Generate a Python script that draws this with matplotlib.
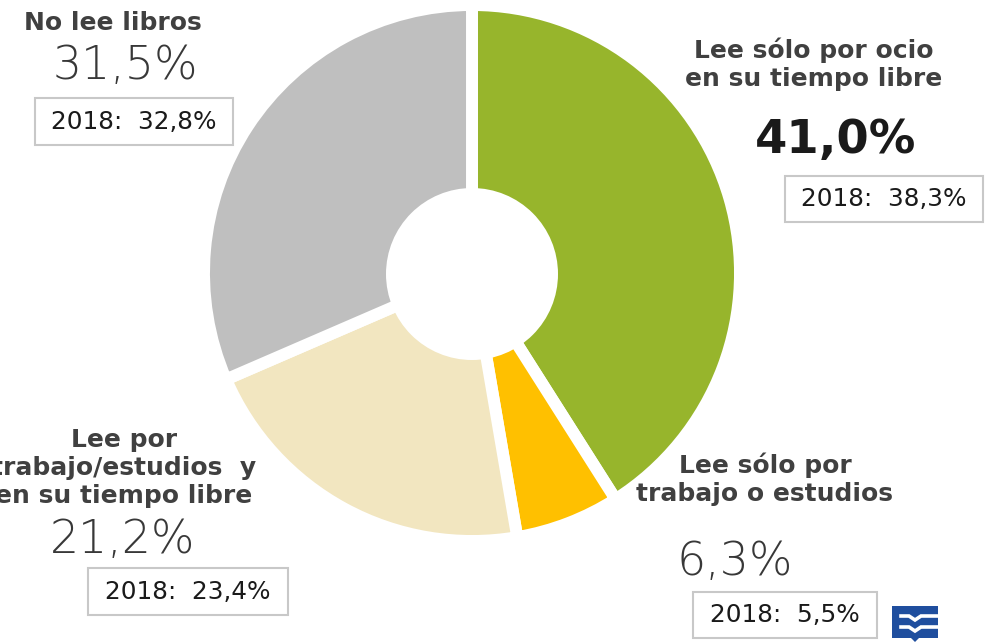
import matplotlib.pyplot as plt
from matplotlib.patches import Circle, Rectangle, Polygon

# data
categories = ['Lee sólo por ocio\nen su tiempo libre',
              'Lee sólo por\ntrabajo o estudios',
              'Lee por\ntrabajo/estudios  y\nen su tiempo libre',
              'No lee libros']
values = [41.0, 6.3, 21.2, 31.5]
prev_2018 = [38.3, 5.5, 23.4, 32.8]
colors = ['#97B52C', '#FFC000', '#F2E6C0', '#BFBFBF']

W, H = 989, 644


def Y(y):
    # image pixel row -> data y
    return H - y


def pct(v):
    return f'{v:.1f}%'.replace('.', ',')


fig = plt.figure(figsize=(W / 100, H / 100), dpi=100)
ax = fig.add_axes([0, 0, 1, 1])

ax.pie(values, colors=colors, startangle=90, counterclock=False,
       center=(472, Y(273)), radius=268,
       wedgeprops=dict(edgecolor='white', linewidth=8.6))
ax.add_patch(Circle((472, Y(274)), 86, facecolor='white', edgecolor='none', zorder=5))

ax.set_xlim(0, W)
ax.set_ylim(0, H)
ax.set_aspect('equal')
ax.axis('off')

label_kw = dict(fontsize=18, fontweight='bold', color='#404040',
                family='DejaVu Sans', ha='center', va='center', linespacing=1.22)
big_kw = dict(fontsize=33, color='#383838', family='DejaVu Sans',
              fontweight='light', ha='center', va='center')
box_kw = dict(fontsize=17.8, color='#1a1a1a', family='DejaVu Sans',
              ha='center', va='center')

# (label xy, value xy, box (x0, y0, x1, y1)) in image pixels
layout = [
    ((814, 64), (836, 140), (785, 176, 983, 222)),
    ((765, 479), (735, 562), (693, 592, 877, 638)),
    ((124, 468), (123, 540), (88, 568, 288, 615)),
    ((113, 23), (125, 66), (35, 98, 233, 145)),
]

for i, (lab, val, box) in enumerate(layout):
    ax.text(lab[0], Y(lab[1]), categories[i], **label_kw)
    if i == 0:
        ax.text(val[0], Y(val[1]), pct(values[i]), fontsize=33.5, fontweight='bold',
                color='#1a1a1a', family='DejaVu Sans', ha='center', va='center')
    else:
        ax.text(val[0], Y(val[1]), pct(values[i]), **big_kw)
    x0, y0, x1, y1 = box
    ax.add_patch(Rectangle((x0, Y(y1)), x1 - x0, y1 - y0, facecolor='white',
                           edgecolor='#C8C8C8', linewidth=1.5))
    ax.text((x0 + x1) / 2, Y((y0 + y1) / 2), f'2018:  {pct(prev_2018[i])}', **box_kw)

# logo
blue = '#1F4E9E'
ax.add_patch(Polygon([(892, Y(606)), (938, Y(606)), (938, Y(638)), (919, Y(638)),
                      (915, Y(642)), (911, Y(638)), (892, Y(638))],
                     closed=True, facecolor=blue, edgecolor='none'))
for yy in (616, 627):
    ax.plot([901, 909, 915, 921, 939], [Y(yy), Y(yy), Y(yy + 4), Y(yy), Y(yy)],
            color='white', linewidth=2.6, solid_joinstyle='miter')

fig.savefig('out.png', dpi=100)
